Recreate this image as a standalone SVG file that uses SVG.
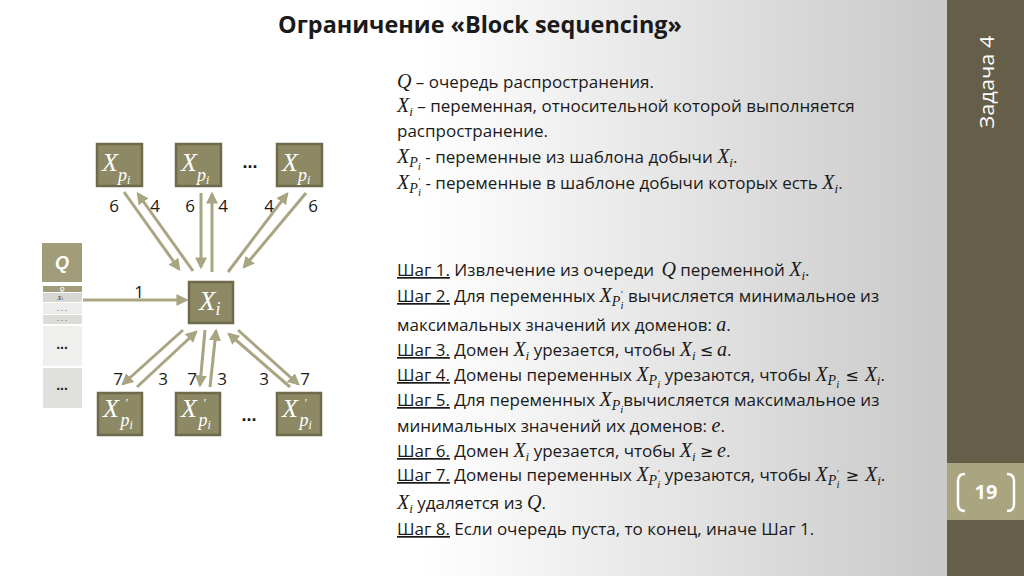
<svg xmlns="http://www.w3.org/2000/svg" width="1024" height="576" viewBox="0 0 1024 576">
<defs>
<linearGradient id="bg" x1="0" y1="0" x2="940" y2="0" gradientUnits="userSpaceOnUse">
<stop offset="0.45" stop-color="#ffffff"/>
<stop offset="1" stop-color="#c9c9c9"/>
</linearGradient>
<marker id="ah" viewBox="0 0 10 10" refX="8" refY="5" markerWidth="4" markerHeight="4" orient="auto" markerUnits="strokeWidth">
<path d="M0,0 L10,5 L0,10 z" fill="#a9a582"/>
</marker>
<style>
.box{fill:#8d8965;stroke:#6e6a4b;stroke-width:2.5}
.nx{font-family:"Liberation Serif",serif;font-style:italic;fill:#ffffff}
.arr{stroke:#a9a582;stroke-width:3;fill:none;marker-end:url(#ah)}
.lbl{font-family:"Open Sans","Liberation Sans",sans-serif;font-size:17px;fill:#1a1a1a;text-anchor:middle}
.t{font-family:"Open Sans","Liberation Sans",sans-serif;font-size:17px;fill:#1a1a1a}
.m{font-family:"Liberation Serif",serif;font-style:italic}
.X{font-size:20px}
.op{font-family:"DejaVu Sans",sans-serif;font-size:16px}
.u{text-decoration:underline}
</style>
</defs>
<rect x="0" y="0" width="1024" height="576" fill="url(#bg)"/>
<rect x="947" y="0" width="77" height="576" fill="#655e48"/>
<rect x="947" y="463" width="77" height="57" fill="#a9a580"/>
<g fill="none" stroke="#ffffff" stroke-width="2.5">
<path d="M965,474 Q958,474 958,481 L958,504 Q958,511 965,511"/>
<path d="M1007,474 Q1014,474 1014,481 L1014,504 Q1014,511 1007,511"/>
</g>
<text x="986" y="499" font-family="Open Sans,Liberation Sans,sans-serif" font-size="20" font-weight="bold" fill="#ffffff" text-anchor="middle">19</text>
<text transform="translate(994,82) rotate(-90)" font-family="Open Sans,Liberation Sans,sans-serif" font-size="20" fill="#ffffff" text-anchor="middle" textLength="93" lengthAdjust="spacingAndGlyphs">Задача 4</text>

<text x="480" y="33" font-family="Open Sans,Liberation Sans,sans-serif" font-size="23" font-weight="bold" fill="#1a1a1a" text-anchor="middle" textLength="404" lengthAdjust="spacingAndGlyphs">Ограничение «Block sequencing»</text>

<!-- queue -->
<g id="queue">
<rect x="42" y="243" width="40" height="39" fill="#a19d7a"/>
<text x="62" y="269" font-family="Liberation Sans,Arial,sans-serif" font-size="18" font-weight="bold" font-style="italic" fill="#ffffff" text-anchor="middle">Q</text>
<rect x="43" y="286" width="39" height="6" fill="#a19d7a"/>
<text x="62" y="291" font-family="Liberation Sans,Arial,sans-serif" font-size="6" font-weight="bold" font-style="italic" fill="#ffffff" text-anchor="middle">Q</text>
<rect x="43" y="293" width="39" height="9" fill="#d6d6d2"/>
<text x="60" y="300" font-family="Liberation Serif,serif" font-style="italic" font-size="7" fill="#333" text-anchor="middle">X<tspan font-size="5">i</tspan></text>
<rect x="43" y="303" width="39" height="11" fill="#ececea"/>
<text x="62" y="312" font-family="Liberation Sans,Arial,sans-serif" font-size="7" fill="#777" text-anchor="middle">- - -</text>
<rect x="43" y="315" width="39" height="9" fill="#dcdcd8"/>
<text x="62" y="322" font-family="Liberation Sans,Arial,sans-serif" font-size="7" fill="#777" text-anchor="middle">- - -</text>
<rect x="43" y="326" width="39" height="40" fill="#efefed"/>
<text x="62" y="349" font-family="Liberation Sans,Arial,sans-serif" font-size="14" font-weight="bold" fill="#222" text-anchor="middle">...</text>
<rect x="43" y="368" width="39" height="40" fill="#e0e0dc"/>
<text x="62" y="390" font-family="Liberation Sans,Arial,sans-serif" font-size="14" font-weight="bold" fill="#222" text-anchor="middle">...</text>
</g>

<!-- connectors -->
<g id="connectors">
<line class="arr" x1="83" y1="300" x2="186" y2="300"/>
<line class="arr" x1="124" y1="192" x2="179" y2="269"/>
<line class="arr" x1="193" y1="271" x2="138" y2="194"/>
<line class="arr" x1="201" y1="193" x2="201" y2="267"/>
<line class="arr" x1="212" y1="272" x2="212" y2="194"/>
<line class="arr" x1="228" y1="272" x2="287" y2="194"/>
<line class="arr" x1="306" y1="193" x2="244" y2="267"/>
<line class="arr" x1="183" y1="330" x2="123" y2="384"/>
<line class="arr" x1="137" y1="387" x2="196" y2="332"/>
<line class="arr" x1="205" y1="330" x2="200" y2="385"/>
<line class="arr" x1="210" y1="387" x2="216" y2="331"/>
<line class="arr" x1="290" y1="387" x2="229" y2="334"/>
<line class="arr" x1="238" y1="330" x2="298" y2="384"/>
<text class="lbl" x="139" y="298">1</text>
<text class="lbl" x="114" y="212">6</text>
<text class="lbl" x="155" y="212">4</text>
<text class="lbl" x="190" y="212">6</text>
<text class="lbl" x="223" y="212">4</text>
<text class="lbl" x="269" y="212">4</text>
<text class="lbl" x="313" y="212">6</text>
<text class="lbl" x="118" y="385">7</text>
<text class="lbl" x="163" y="385">3</text>
<text class="lbl" x="192" y="385">7</text>
<text class="lbl" x="222" y="385">3</text>
<text class="lbl" x="264" y="385">3</text>
<text class="lbl" x="305" y="385">7</text>
</g>

<!-- nodes -->
<g id="node-xp1">
<rect class="box" x="97" y="144" width="45" height="42"/>
<text class="nx" x="102" y="171" font-size="26">X<tspan font-size="18" dy="10">p</tspan><tspan font-size="12" dy="3">i</tspan></text>
</g>
<g id="node-xp2">
<rect class="box" x="176" y="144" width="45" height="42"/>
<text class="nx" x="181" y="171" font-size="26">X<tspan font-size="18" dy="10">p</tspan><tspan font-size="12" dy="3">i</tspan></text>
</g>
<text x="250" y="168" font-family="Liberation Sans,Arial,sans-serif" font-size="18" font-weight="bold" fill="#1a1a1a" text-anchor="middle">...</text>
<g id="node-xp3">
<rect class="box" x="277" y="144" width="45" height="42"/>
<text class="nx" x="282" y="171" font-size="26">X<tspan font-size="18" dy="10">p</tspan><tspan font-size="12" dy="3">i</tspan></text>
</g>
<g id="node-xi">
<rect class="box" x="189" y="282" width="44" height="41"/>
<text class="nx" x="199" y="310" font-size="27">X<tspan font-size="18" dy="5">i</tspan></text>
</g>
<g id="node-xpp1">
<rect class="box" x="98" y="393" width="44" height="42"/>
<text class="nx" x="103" y="417" font-size="26">X<tspan font-size="12" dx="6" dy="-10">′</tspan><tspan font-size="18" dx="-7" dy="19">p</tspan><tspan font-size="12" dy="3">i</tspan></text>
</g>
<g id="node-xpp2">
<rect class="box" x="176" y="393" width="44" height="42"/>
<text class="nx" x="181" y="417" font-size="26">X<tspan font-size="12" dx="6" dy="-10">′</tspan><tspan font-size="18" dx="-7" dy="19">p</tspan><tspan font-size="12" dy="3">i</tspan></text>
</g>
<text x="249" y="421" font-family="Liberation Sans,Arial,sans-serif" font-size="18" font-weight="bold" fill="#1a1a1a" text-anchor="middle">...</text>
<g id="node-xpp3">
<rect class="box" x="277" y="393" width="44" height="42"/>
<text class="nx" x="282" y="417" font-size="26">X<tspan font-size="12" dx="6" dy="-10">′</tspan><tspan font-size="18" dx="-7" dy="19">p</tspan><tspan font-size="12" dy="3">i</tspan></text>
</g>

<!-- description text -->
<g id="text-defs" class="t">
<text x="397" y="88"><tspan class="m X">Q</tspan> – очередь распространения.</text>
<text x="397" y="112"><tspan class="m X">X</tspan><tspan class="m" font-size="13" dy="4">i</tspan><tspan dy="-4"> – переменная, относительной которой выполняется</tspan></text>
<text x="397" y="137">распространение.</text>
<text x="397" y="163"><tspan class="m X">X</tspan><tspan class="m" font-size="14" dy="4">P</tspan><tspan class="m" font-size="11" dy="3">i</tspan><tspan dy="-7"> - переменные из шаблона добычи </tspan><tspan class="m X">X</tspan><tspan class="m" font-size="13" dy="4">i</tspan><tspan dy="-4">.</tspan></text>
<text x="397" y="189"><tspan class="m X">X</tspan><tspan class="m" font-size="14" dy="4">P</tspan><tspan class="m" font-size="10" dy="-8">′</tspan><tspan class="m" font-size="11" dx="-2" dy="11">i</tspan><tspan dy="-7"> - переменные в шаблоне добычи которых есть </tspan><tspan class="m X">X</tspan><tspan class="m" font-size="13" dy="4">i</tspan><tspan dy="-4">.</tspan></text>
</g>
<g id="text-steps" class="t">
<text x="397" y="276"><tspan class="u">Шаг 1.</tspan> Извлечение из очереди <tspan class="m X" dx="3">Q</tspan> переменной <tspan class="m X">X</tspan><tspan class="m" font-size="13" dy="4">i</tspan><tspan dy="-4">.</tspan></text>
<text x="397" y="302"><tspan class="u">Шаг 2.</tspan> Для переменных <tspan class="m X">X</tspan><tspan class="m" font-size="14" dy="4">P</tspan><tspan class="m" font-size="10" dy="-8">′</tspan><tspan class="m" font-size="11" dx="-2" dy="11">i</tspan><tspan dy="-7"> вычисляется минимальное из</tspan></text>
<text x="397" y="331">максимальных значений их доменов: <tspan class="m X">a</tspan>.</text>
<text x="397" y="356"><tspan class="u">Шаг 3.</tspan> Домен <tspan class="m X">X</tspan><tspan class="m" font-size="13" dy="4">i</tspan><tspan dy="-4"> урезается, чтобы </tspan><tspan class="m X">X</tspan><tspan class="m" font-size="13" dy="4">i</tspan><tspan class="op" dx="4" dy="-4">≤</tspan><tspan class="m X" dx="4">a</tspan>.</text>
<text x="397" y="381"><tspan class="u">Шаг 4.</tspan> Домены переменных <tspan class="m X">X</tspan><tspan class="m" font-size="14" dy="4">P</tspan><tspan class="m" font-size="11" dy="3">i</tspan><tspan dy="-7"> урезаются, чтобы </tspan><tspan class="m X">X</tspan><tspan class="m" font-size="14" dy="4">P</tspan><tspan class="m" font-size="11" dy="3">i</tspan><tspan class="op" dx="6" dy="-7">≤</tspan><tspan class="m X" dx="6">X</tspan><tspan class="m" font-size="13" dy="4">i</tspan><tspan dy="-4">.</tspan></text>
<text x="397" y="406"><tspan class="u">Шаг 5.</tspan> Для переменных <tspan class="m X">X</tspan><tspan class="m" font-size="14" dy="4">P</tspan><tspan class="m" font-size="11" dy="3">i</tspan><tspan dy="-7">вычисляется максимальное из</tspan></text>
<text x="397" y="432">минимальных значений их доменов: <tspan class="m X">e</tspan>.</text>
<text x="397" y="457"><tspan class="u">Шаг 6.</tspan> Домен <tspan class="m X">X</tspan><tspan class="m" font-size="13" dy="4">i</tspan><tspan dy="-4"> урезается, чтобы </tspan><tspan class="m X">X</tspan><tspan class="m" font-size="13" dy="4">i</tspan><tspan class="op" dx="4" dy="-4">≥</tspan><tspan class="m X" dx="4">e</tspan>.</text>
<text x="397" y="481"><tspan class="u">Шаг 7.</tspan> Домены переменных <tspan class="m X">X</tspan><tspan class="m" font-size="14" dy="4">P</tspan><tspan class="m" font-size="10" dy="-8">′</tspan><tspan class="m" font-size="11" dx="-2" dy="11">i</tspan><tspan dy="-7"> урезаются, чтобы </tspan><tspan class="m X">X</tspan><tspan class="m" font-size="14" dy="4">P</tspan><tspan class="m" font-size="10" dy="-8">′</tspan><tspan class="m" font-size="11" dx="-2" dy="11">i</tspan><tspan class="op" dx="6" dy="-7">≥</tspan><tspan class="m X" dx="6">X</tspan><tspan class="m" font-size="13" dy="4">i</tspan><tspan dy="-4">.</tspan></text>
<text x="397" y="509"><tspan class="m X">X</tspan><tspan class="m" font-size="13" dy="4">i</tspan><tspan dy="-4"> удаляется из </tspan><tspan class="m X">Q</tspan>.</text>
<text x="397" y="535"><tspan class="u">Шаг 8.</tspan> Если очередь пуста, то конец, иначе Шаг 1.</text>
</g>
</svg>
